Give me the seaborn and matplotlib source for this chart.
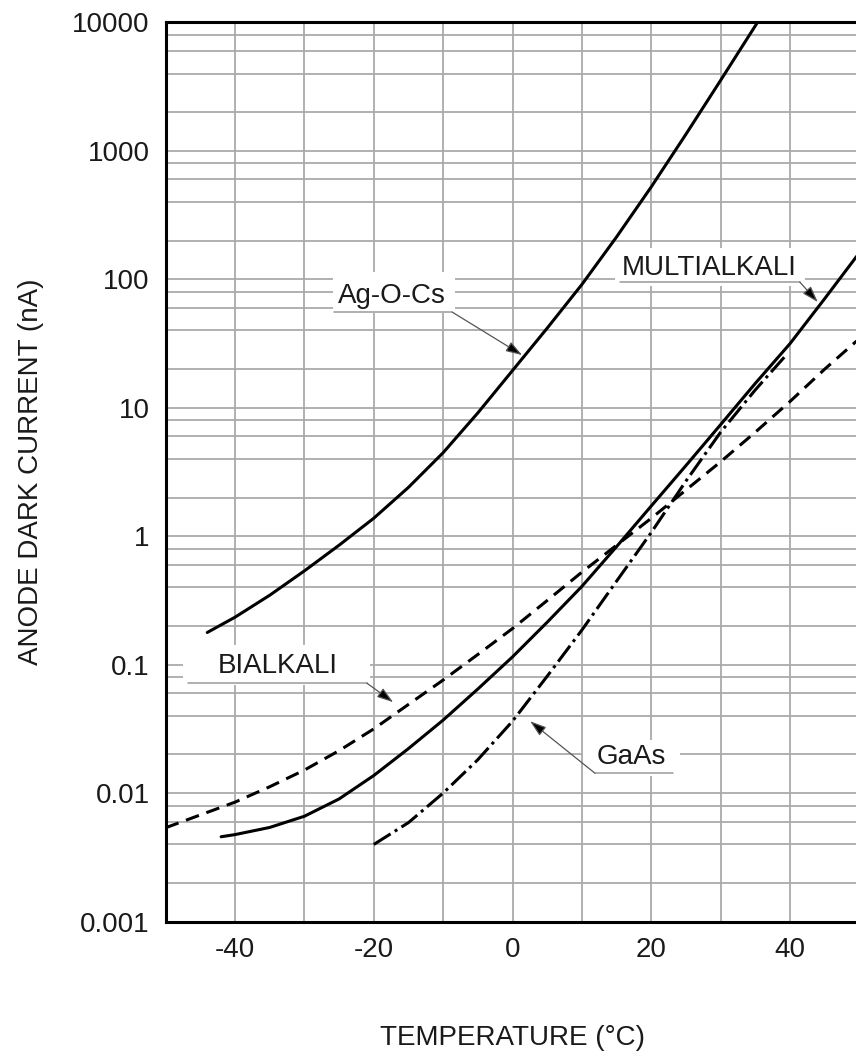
import numpy as np
import pandas as pd
import matplotlib
matplotlib.use("Agg")
import matplotlib.pyplot as plt
from matplotlib.patches import Rectangle
from matplotlib.ticker import FixedLocator, NullFormatter
import seaborn as sns

# ---------------- data ----------------
agocs_temp = [-44, -40, -35, -30, -25, -20, -15, -10, -5, 0, 5, 10, 15, 20, 25, 30, 35.3]
agocs_nA = [0.178, 0.234, 0.347, 0.537, 0.851, 1.38, 2.40, 4.47, 9.12, 19.5, 41.7, 91.2,
            214, 525, 1349, 3548, 10000]

multi_temp = [-42, -40, -35, -30, -25, -20, -15, -10, -5, 0, 5, 10, 15, 20, 25, 30, 35, 40, 45, 49.6]
multi_nA = [0.00457, 0.00475, 0.00540, 0.0066, 0.0090, 0.0137, 0.0222, 0.0370, 0.0646, 0.115,
            0.214, 0.407, 0.83, 1.72, 3.55, 7.4, 15.5, 31.6, 70.8, 151]

bialk_temp = [-50, -45, -40, -35, -30, -25, -20, -15, -10, -5, 0, 5, 10, 15, 20, 25, 30, 35, 40, 45, 49.6]
bialk_nA = [0.00537, 0.00676, 0.0085, 0.0112, 0.0151, 0.0214, 0.0316, 0.0490, 0.0759, 0.120,
            0.191, 0.316, 0.525, 0.851, 1.38, 2.29, 3.80, 6.46, 11.2, 20.0, 33.1]

gaas_temp = [-20, -15, -10, -5, 0, 5, 10, 15, 20, 25, 30, 35, 39.6]
gaas_nA = [0.00398, 0.00589, 0.0100, 0.0182, 0.0363, 0.0813, 0.186, 0.447, 1.07, 2.69,
           6.46, 13.8, 26.3]

x_ticks = [-40, -20, 0, 20, 40]
x_tick_labels = ["-40", "-20", "0", "20", "40"]
y_ticks = [0.001, 0.01, 0.1, 1, 10, 100, 1000, 10000]
y_tick_labels = ["0.001", "0.01", "0.1", "1", "10", "100", "1000", "10000"]

x_label = "TEMPERATURE (°C)"
y_label = "ANODE DARK CURRENT (nA)"

# ---------------- style ----------------
sns.set_theme(style="white")
plt.rcParams["font.family"] = ["Liberation Sans", "DejaVu Sans"]
TXT = "#1a1a1a"
FS = 20

fig = plt.figure(figsize=(8.56, 10.54), dpi=100)
ax = fig.add_axes([0.1935, 0.1257, 0.8105, 0.853])
ax.set_yscale("log")
ax.set_xlim(-50, 50)
ax.set_ylim(0.001, 10000)

# grid
ax.set_xticks(x_ticks)
ax.set_xticklabels(x_tick_labels)
ax.xaxis.set_minor_locator(FixedLocator([-50, -30, -10, 10, 30, 50]))
ax.yaxis.set_major_locator(FixedLocator(y_ticks))
ax.set_yticklabels(y_tick_labels)
minor_y = [k * 10.0 ** e for e in range(-3, 4) for k in (2, 4, 6, 8)]
ax.yaxis.set_minor_locator(FixedLocator(minor_y))
ax.yaxis.set_minor_formatter(NullFormatter())
ax.xaxis.set_minor_formatter(NullFormatter())
ax.grid(True, which="both", color="#aaaaaa", lw=1.3, zorder=0)
ax.set_axisbelow(True)

ax.tick_params(which="both", length=0)
ax.tick_params(axis="y", pad=11.5, labelsize=FS, labelcolor=TXT)
ax.tick_params(axis="x", pad=11, labelsize=FS, labelcolor=TXT)

for side in ["left", "bottom", "top", "right"]:
    ax.spines[side].set_color("black")
    ax.spines[side].set_linewidth(2.2)
    ax.spines[side].set_zorder(5)

# label boxes (white, hide grid behind labels)
boxes = [(-25.9, -8.3, 54.7, 114), (14.8, 42.2, 88.5, 175),
         (-47.5, -20.5, 0.0692, 0.1416), (10.2, 24.1, 0.01352, 0.0258)]
for x0, x1, y0, y1 in boxes:
    ax.add_patch(Rectangle((x0, y0), x1 - x0, y1 - y0, facecolor="white",
                           edgecolor="none", zorder=1.5))

# curves
lw = 2.2
sns.lineplot(x=agocs_temp, y=agocs_nA, ax=ax, color="black", lw=lw, estimator=None, sort=False, zorder=4)
sns.lineplot(x=multi_temp, y=multi_nA, ax=ax, color="black", lw=lw, estimator=None, sort=False, zorder=4)
sns.lineplot(x=bialk_temp, y=bialk_nA, ax=ax, color="black", lw=lw, estimator=None, sort=False,
             linestyle=(0, (4.5, 2.6)), zorder=4)
sns.lineplot(x=gaas_temp, y=gaas_nA, ax=ax, color="black", lw=lw, estimator=None, sort=False,
             linestyle=(0, (6.5, 1.6, 1.0, 1.6)), zorder=4)

# annotations: text, underline, leader with arrow
labels = [
    ("Ag-O-Cs", (-25.16, 65.3), (-25.8, -8.7), 55.6, (1.39, 25.7), "right"),
    ("MULTIALKALI", (15.8, 108), (15.5, 41.4), 95.3, (44.0, 66.5), "right"),
    ("BIALKALI", (-42.56, 0.0859), (-46.8, -21.0), 0.0718, (-17.2, 0.051), "right"),
    ("GaAs", (12.16, 0.01694), (11.87, 23.1), 0.01429, (2.53, 0.0363), "left"),
]
for text, (tx, ty), (ux0, ux1), uy, tip, side in labels:
    ax.text(tx, ty, text, fontsize=FS, color=TXT, ha="left", va="baseline", zorder=3)
    ax.plot([ux0, ux1], [uy, uy], color="#9a9a9a", lw=1.1, zorder=3)
    start = (ux1, uy) if side == "right" else (ux0, uy)
    ax.annotate("", xy=tip, xytext=start,
                arrowprops=dict(arrowstyle="-|>,head_length=0.55,head_width=0.18",
                                ec="#555555", fc="black", lw=0.9,
                                shrinkA=0, shrinkB=0, mutation_scale=18),
                zorder=3)

ax.set_xlabel(x_label, fontsize=FS, color=TXT, labelpad=45)
ax.set_ylabel(y_label, fontsize=FS, color=TXT, labelpad=20)

fig.savefig("out.png", dpi=100, facecolor="white")
